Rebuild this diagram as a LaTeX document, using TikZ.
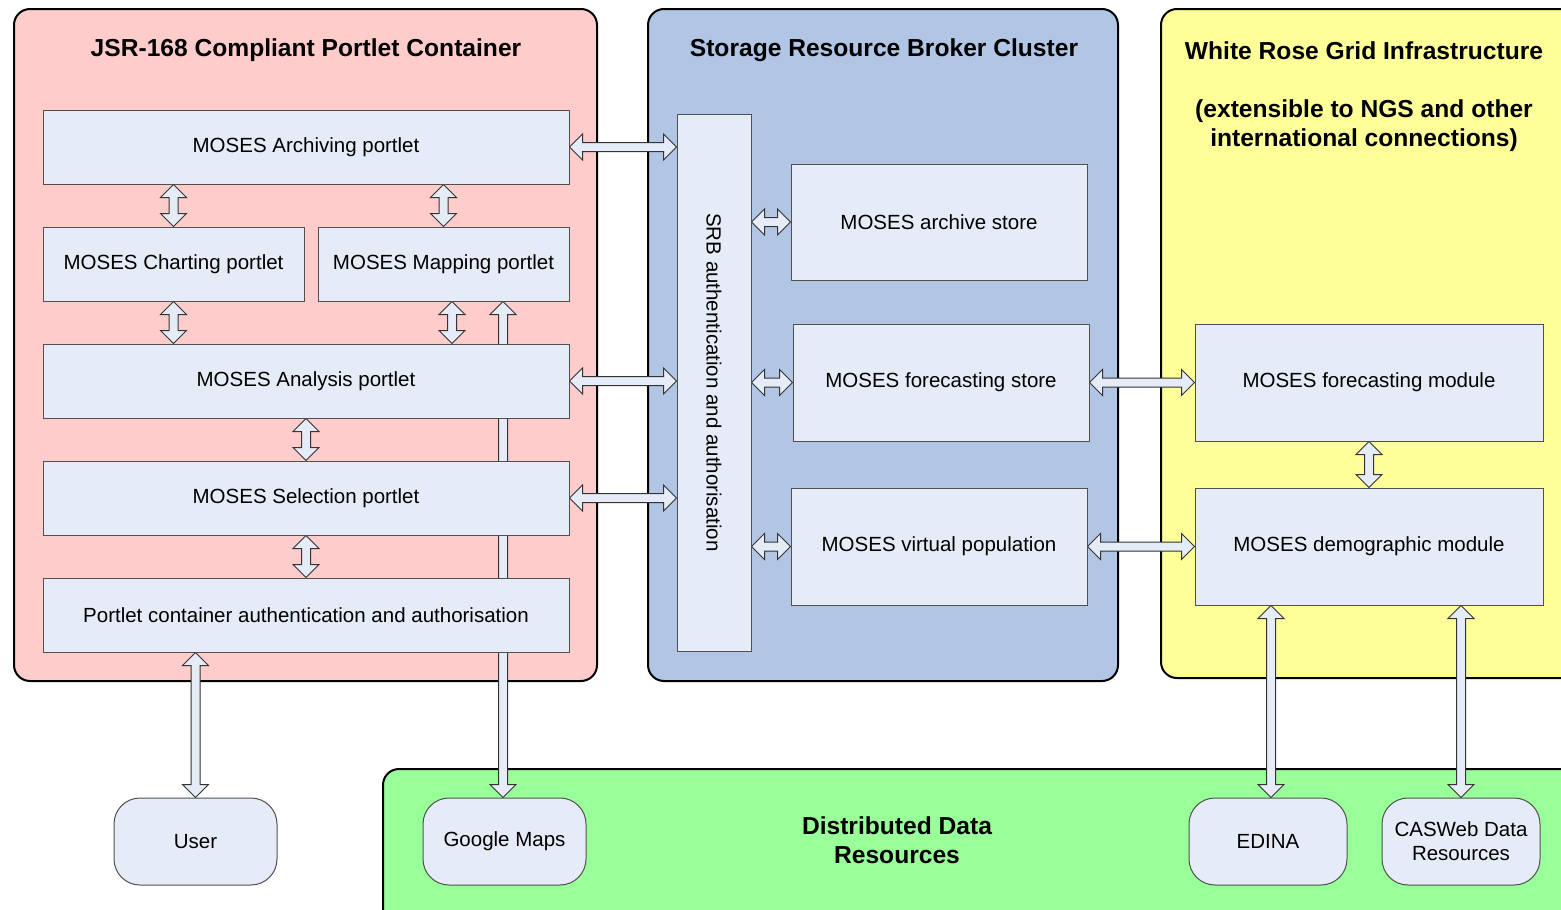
\documentclass[tikz,border=0pt]{standalone}
\usepackage{fontspec}
\setmainfont{Liberation Sans}
\usetikzlibrary{calc}
\pgfdeclarelayer{bg}
\pgfdeclarelayer{arrows}
\pgfsetlayers{bg,arrows,main}
\definecolor{pinkbg}{HTML}{FFCCCC}
\definecolor{bluebg}{HTML}{B0C6E4}
\definecolor{yelbg}{HTML}{FFFF99}
\definecolor{grnbg}{HTML}{99FF99}
\definecolor{boxfill}{HTML}{E6ECF7}
\definecolor{boxline}{HTML}{505050}
\tikzset{
 container/.style={draw=black, line width=2pt, rounded corners=16pt},
 box/.style={draw=boxline, line width=1pt, fill=boxfill, inner sep=0pt, align=center, font=\fontsize{20.5}{24}\selectfont},
 rbox/.style={box, rounded corners=26pt},
 title/.style={font=\fontsize{24.6}{29}\selectfont\bfseries, align=center, inner sep=0pt},
 barrow/.style={draw=black!80, fill=boxfill, line width=1pt, line join=miter},
}
\newcommand{\barr}[2]{%
 \coordinate (bA) at (#1); \coordinate (bB) at (#2);
 \filldraw[barrow] (bA)
  -- ($(bA)!13pt!(bB)!13pt!90:(bB)$)
  -- ($(bA)!13pt!(bB)!4.5pt!90:(bB)$)
  -- ($(bB)!13pt!(bA)!4.5pt!-90:(bA)$)
  -- ($(bB)!13pt!(bA)!13pt!-90:(bA)$)
  -- (bB)
  -- ($(bB)!13pt!(bA)!13pt!90:(bA)$)
  -- ($(bB)!13pt!(bA)!4.5pt!90:(bA)$)
  -- ($(bA)!13pt!(bB)!4.5pt!-90:(bB)$)
  -- ($(bA)!13pt!(bB)!13pt!-90:(bB)$)
  -- cycle;}
\begin{document}
\begin{tikzpicture}[x=1pt,y=-1pt]
\useasboundingbox (0,0) rectangle (1561,910);
\clip (0,0) rectangle (1561,910);
% containers
\begin{pgfonlayer}{bg}
\draw[container, fill=pinkbg] (14,9) rectangle (597,681);
\draw[container, fill=bluebg] (648,9) rectangle (1118,681);
\draw[container, fill=yelbg] (1161,9) rectangle (1600,678);
\draw[container, fill=grnbg] (383,769) rectangle (1600,960);
\end{pgfonlayer}
% titles
\node[title] (t1) at (306,50) {JSR-168 Compliant Portlet Container};
\node[title] (t2) at (884,50) {Storage Resource Broker Cluster};
\node[title] (t3) at (1364,51) {White Rose Grid Infrastructure};
\node[title] (t4) at (1364,125.5) {(extensible to NGS and other\\international connections)};
\node[title] (t5) at (897,840.5) {Distributed Data\\Resources};
% nodes
\node[box, minimum width=526, minimum height=74] (arch) at (306,147) {MOSES Archiving portlet};
\node[box, minimum width=261, minimum height=74] (chart) at (173.5,264) {MOSES Charting portlet};
\node[box, minimum width=251, minimum height=74] (map) at (443.5,264) {MOSES Mapping portlet};
\node[box, minimum width=526, minimum height=74] (anal) at (306,381) {MOSES Analysis portlet};
\node[box, minimum width=526, minimum height=74] (sel) at (306,498) {MOSES Selection portlet};
\node[box, minimum width=526, minimum height=74] (pauth) at (306,615) {Portlet container authentication and authorisation};
\node[box, minimum width=74, minimum height=537] (srb) at (714,382.5) {};
\node[font=\fontsize{20.5}{24}\selectfont, rotate=-90, inner sep=0pt] (srbt) at (srb.center) {SRB authentication and authorisation};
\node[box, minimum width=296, minimum height=116] (astore) at (939,222) {MOSES archive store};
\node[box, minimum width=296, minimum height=117] (fstore) at (941,382.5) {MOSES forecasting store};
\node[box, minimum width=296, minimum height=117] (vpop) at (939,546.5) {MOSES virtual population};
\node[box, minimum width=348, minimum height=117] (fmod) at (1369,382.5) {MOSES forecasting module};
\node[box, minimum width=348, minimum height=117] (dmod) at (1369,546.5) {MOSES demographic module};
\node[rbox, minimum width=163, minimum height=87] (user) at (195.5,841.5) {User};
\node[rbox, minimum width=163, minimum height=87] (gmaps) at (504.5,841.5) {Google Maps};
\node[rbox, minimum width=158, minimum height=87] (edina) at (1268,841.5) {EDINA};
\node[rbox, minimum width=158, minimum height=87] (casweb) at (1461,841.5) {CASWeb Data\\Resources};
% arrows (behind boxes)
\coordinate (mx) at (452,0);
\coordinate (gx) at (503,0);
\coordinate (ex) at (1271,0);
\begin{pgfonlayer}{arrows}
\barr{gx |- gmaps.north}{gx |- map.south}
\barr{chart.north}{chart.north |- arch.south}
\barr{map.north}{map.north |- arch.south}
\barr{chart.south}{chart.south |- anal.north}
\barr{mx |- map.south}{mx |- anal.north}
\barr{anal.south}{sel.north}
\barr{sel.south}{pauth.north}
\barr{user.north}{user.north |- pauth.south}
\barr{arch.east}{arch.east -| srb.west}
\barr{anal.east}{anal.east -| srb.west}
\barr{sel.east}{sel.east -| srb.west}
\barr{astore.west -| srb.east}{astore.west}
\barr{fstore.west -| srb.east}{fstore.west}
\barr{vpop.west -| srb.east}{vpop.west}
\barr{fstore.east}{fmod.west}
\barr{vpop.east}{dmod.west}
\barr{fmod.south}{dmod.north}
\barr{ex |- dmod.south}{ex |- edina.north}
\barr{casweb.north |- dmod.south}{casweb.north}
\end{pgfonlayer}
\end{tikzpicture}
\end{document}
